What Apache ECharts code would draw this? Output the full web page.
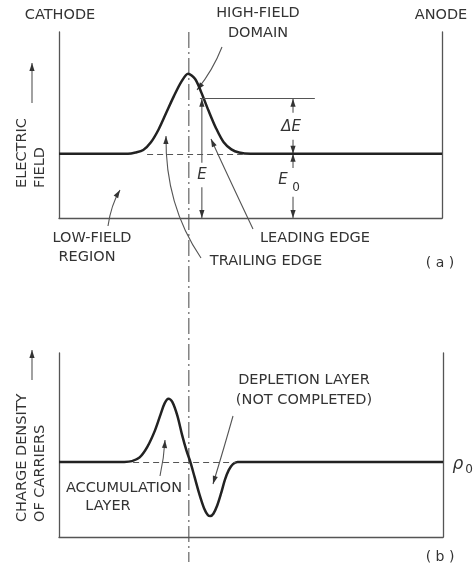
<!DOCTYPE html>
<html><head><meta charset="utf-8">
<script src="https://cdn.jsdelivr.net/npm/echarts@6/dist/echarts.min.js"></script>
<style>html,body{margin:0;padding:0;background:#fff}#c{width:476px;height:570px}</style>
</head><body><div id="c"></div>
<script>
// Position along the sample: 0 = cathode, 100 = anode
// (a) Electric field, in units of the low-field value E0
const positionA = [0, 15, 18, 20, 22, 24, 26, 28, 30, 32, 33.7, 35.5, 37, 39, 41, 43, 45, 47, 50, 100];
const fieldA    = [1.0, 1.0, 1.0, 1.02, 1.06, 1.18, 1.38, 1.64, 1.90, 2.13, 2.25, 2.17, 1.98, 1.68, 1.40, 1.18, 1.07, 1.02, 1.0, 1.0];
// (b) Charge density of carriers, in units of rho0
const positionB = [0, 17, 19, 21, 23, 25, 26.5, 27.5, 28.5, 29.5, 30.8, 32.1, 33.2, 34.2, 35.3, 36.5, 37.8, 38.8, 39.4, 40.2, 41.2, 42.2, 43.2, 44.2, 45.3, 46.5, 100];
const densityB  = [1.0, 1.0, 1.01, 1.06, 1.2, 1.42, 1.64, 1.78, 1.84, 1.80, 1.62, 1.35, 1.15, 1.0, 0.80, 0.58, 0.38, 0.29, 0.28, 0.31, 0.42, 0.58, 0.76, 0.89, 0.97, 1.0, 1.0];
const fieldBase = 1.0;      // E0
const densityBase = 1.0;    // rho0
const domainCentre = 33.9;  // dash-dot line through the domain
const deltaTop = 1.86;      // top of the ΔE reference line

const chart = echarts.init(document.getElementById('c'), null, {renderer: 'canvas'});
const INK = '#222', FRAME = '#555', TXT = '#333', FONT = 'DejaVu Sans';

function axisX(gi) {
  return {type: 'value', gridIndex: gi, min: 0, max: 100,
    axisLine: {show: true, onZero: false, lineStyle: {color: FRAME, width: 1.3}},
    axisTick: {show: false}, axisLabel: {show: false}, splitLine: {show: false}};
}
function axisY(gi, max, pos) {
  return {type: 'value', gridIndex: gi, min: 0, max: max, position: pos,
    axisLine: {show: true, onZero: false, lineStyle: {color: FRAME, width: 1.3}},
    axisTick: {show: false}, axisLabel: {show: false}, splitLine: {show: false}};
}
const zip = (xs, ys) => xs.map((x, i) => [x, ys[i]]);

chart.setOption({
  animation: false,
  backgroundColor: '#fff',
  grid: [
    {left: 59, right: 34, top: 32, height: 186},
    {left: 59, right: 33, top: 353, height: 184}
  ],
  xAxis: [axisX(0), axisX(1)],
  yAxis: [axisY(0, 2.9, 'left'), axisY(0, 2.9, 'right'), axisY(1, 2.45, 'left'), axisY(1, 2.45, 'right')],
  series: [
    {type: 'line', xAxisIndex: 0, yAxisIndex: 0, data: zip(positionA, fieldA),
     showSymbol: false, smooth: 0.3, lineStyle: {color: INK, width: 2.5},
     markLine: {silent: true, symbol: 'none', label: {show: false},
       data: [
         [{coord: [23, fieldBase], lineStyle: {type: [6, 4], color: FRAME, width: 1.2}}, {coord: [48, fieldBase]}],
         [{coord: [36.8, deltaTop], lineStyle: {type: 'solid', color: FRAME, width: 1.1}}, {coord: [66.8, deltaTop]}]
       ]}},
    {type: 'line', xAxisIndex: 1, yAxisIndex: 2, data: zip(positionB, densityB),
     showSymbol: false, smooth: 0.3, lineStyle: {color: INK, width: 2.5},
     markLine: {silent: true, symbol: 'none', label: {show: false},
       data: [
         [{coord: [19.3, densityBase], lineStyle: {type: [6, 4], color: FRAME, width: 1.2}}, {coord: [46, densityBase]}]
       ]}}
  ]
});

// ---------- annotations ----------
const g = [];
function head(tip, from) {
  const dx = tip[0] - from[0], dy = tip[1] - from[1];
  const L = Math.hypot(dx, dy) || 1, ux = dx / L, uy = dy / L;
  const len = 8, w = 2.6;
  const bx = tip[0] - ux * len, by = tip[1] - uy * len;
  g.push({type: 'polygon', silent: true,
    shape: {points: [tip, [bx - uy * w, by + ux * w], [bx + uy * w, by - ux * w]]},
    style: {fill: '#333'}});
}
function arrow(p0, c, p1) {
  if (c) {
    g.push({type: 'bezierCurve', silent: true,
      shape: {x1: p0[0], y1: p0[1], cpx1: c[0], cpy1: c[1], x2: p1[0], y2: p1[1]},
      style: {stroke: '#555', lineWidth: 1.1, fill: null}});
    head(p1, c);
  } else {
    g.push({type: 'line', silent: true,
      shape: {x1: p0[0], y1: p0[1], x2: p1[0], y2: p1[1]},
      style: {stroke: '#555', lineWidth: 1.1}});
    head(p1, p0);
  }
}
const pa = (x, y) => chart.convertToPixel({gridIndex: 0}, [x, y]);
function text(t, x, y, o) {
  o = o || {};
  g.push({type: 'text', silent: true, x: x, y: y, rotation: o.rot || 0,
    style: {text: t, fontFamily: FONT, fontSize: o.size || 14.5, fontStyle: o.italic ? 'italic' : 'normal',
      fill: TXT, align: o.align || 'center', textAlign: o.align || 'center',
      verticalAlign: 'middle', textVerticalAlign: 'middle'}});
}

// dash-dot line through the domain centre
const cx = pa(domainCentre, 0)[0];
g.push({type: 'line', silent: true, shape: {x1: cx, y1: 32, x2: cx, y2: 562},
  style: {stroke: '#555', lineWidth: 1.1, lineDash: [16, 4, 2, 4]}});

// E, ΔE, E0 dimension arrows (data coordinates)
const xE = 37.3, xD = 61.1;
arrow(pa(xE, 0.86), null, pa(xE, deltaTop));
arrow(pa(xE, 0.48), null, pa(xE, 0));
arrow(pa(xD, 1.64), null, pa(xD, deltaTop));
arrow(pa(xD, 1.22), null, pa(xD, fieldBase));
arrow(pa(xD, 0.78), null, pa(xD, fieldBase));
arrow(pa(xD, 0.33), null, pa(xD, 0));

// pointer arrows
arrow([222, 47], [213, 70], [197, 90]);     // high-field domain
arrow([108, 226], [111, 205], [120, 190]);  // low-field region
arrow([201, 258], [165, 205], [166, 136]);  // trailing edge
arrow([253, 229], [226, 172], [211, 139]);  // leading edge
arrow([233, 416], [224, 448], [213, 484]);  // depletion layer
arrow([160, 476], [164, 458], [165, 440]);  // accumulation layer
arrow([32, 103], null, [32, 63]);           // field axis arrow
arrow([32, 380], null, [32, 350]);          // density axis arrow

// labels
text('CATHODE', 60, 15);
text('ANODE', 441, 15);
text('HIGH-FIELD', 258, 13);
text('DOMAIN', 258, 33);
text('ELECTRIC', 22, 188, {rot: Math.PI / 2, align: 'left'});
text('FIELD', 40, 188, {rot: Math.PI / 2, align: 'left'});
text('ΔE', 291, 127, {italic: true, size: 15});
text('E', 202, 175, {italic: true, size: 15});
text('E', 283, 180, {italic: true, size: 15});
text('0', 296, 188, {size: 12});
text('LOW-FIELD', 92, 238);
text('REGION', 87, 257);
text('LEADING EDGE', 315, 238);
text('TRAILING EDGE', 266, 261);
text('( a )', 440, 263, {size: 14});
text('DEPLETION LAYER', 304, 380);
text('(NOT COMPLETED)', 304, 400);
text('ACCUMULATION', 124, 488);
text('LAYER', 108, 506);
text('CHARGE DENSITY', 22, 522, {rot: Math.PI / 2, align: 'left'});
text('OF CARRIERS', 40, 522, {rot: Math.PI / 2, align: 'left'});
text('ρ', 458, 465, {italic: true, size: 17});
text('0', 469, 470, {size: 12});
text('( b )', 440, 557, {size: 14});

chart.setOption({graphic: {elements: g}});
</script>
</body></html>
